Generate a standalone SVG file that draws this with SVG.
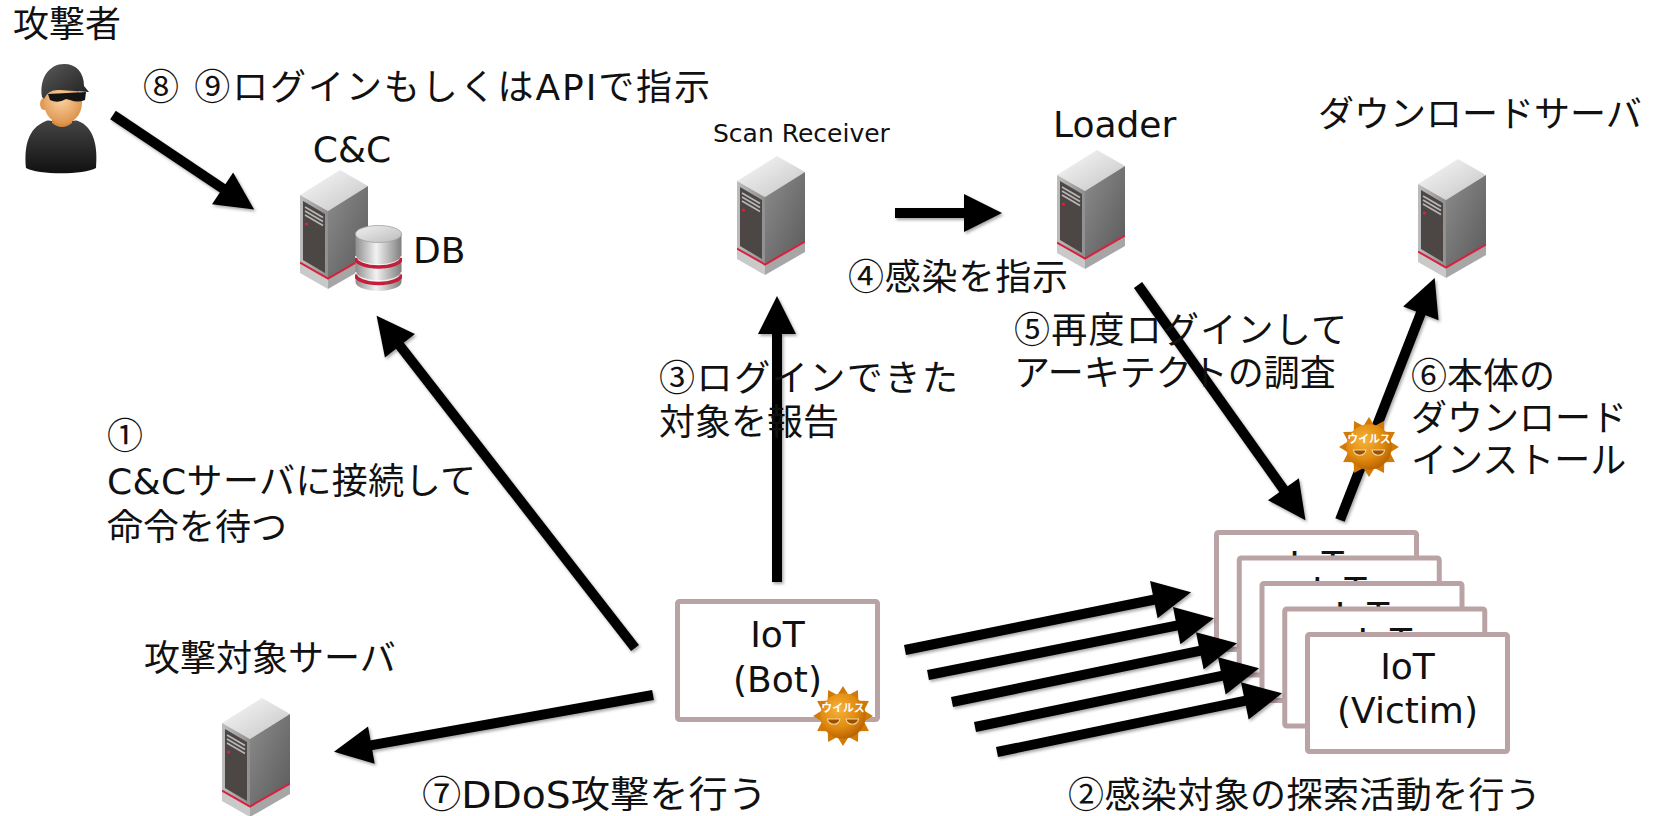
<svg xmlns="http://www.w3.org/2000/svg" xmlns:xlink="http://www.w3.org/1999/xlink" width="1674" height="816" viewBox="0 0 1674 816">
  <style>
    .t { font-family: "DejaVu Sans", "Noto Sans CJK JP", sans-serif; font-size: 36px; fill: #111; }
    .c { font-family: "Noto Sans CJK JP", sans-serif; }
    .small { font-size: 25px; }
    .mid { text-anchor: middle; }
    .box { fill: #fff; stroke: #b9a3a5; stroke-width: 5; }
    .arrow { stroke: #000; stroke-width: 10; fill: none; marker-end: url(#head); }
    .vtxt { font-family: "Noto Sans CJK JP", sans-serif; font-weight: bold; font-size: 10.5px; fill: #fff; text-anchor: middle; }
  </style>
  <defs>
    <marker id="head" markerUnits="userSpaceOnUse" markerWidth="40" markerHeight="40" viewBox="0 -20 40 40" refX="1" refY="0" orient="auto" overflow="visible">
      <path d="M0,-19 L38,0 L0,19 Z" fill="#000"/>
    </marker>
    <filter id="shadow" x="-5%" y="-5%" width="110%" height="110%">
      <feDropShadow dx="1.5" dy="2" stdDeviation="1.5" flood-color="#000" flood-opacity="0.35"/>
    </filter>
    <linearGradient id="gTop" x1="0" y1="0" x2="1" y2="1">
      <stop offset="0" stop-color="#fafafa"/>
      <stop offset="1" stop-color="#c4c4c4"/>
    </linearGradient>
    <linearGradient id="gRight" x1="0" y1="0" x2="1" y2="1">
      <stop offset="0" stop-color="#8c8c8c"/>
      <stop offset="1" stop-color="#5a5a5a"/>
    </linearGradient>
    <linearGradient id="gBezel" x1="0" y1="0" x2="1" y2="0">
      <stop offset="0" stop-color="#bdbdbd"/>
      <stop offset="1" stop-color="#8f8f8f"/>
    </linearGradient>
    <linearGradient id="gCyl" x1="0" y1="0" x2="1" y2="0">
      <stop offset="0" stop-color="#8e8e8e"/>
      <stop offset="0.45" stop-color="#f2f2f2"/>
      <stop offset="1" stop-color="#7e7e7e"/>
    </linearGradient>
    <linearGradient id="gCylTop" x1="0" y1="0" x2="1" y2="1">
      <stop offset="0" stop-color="#f0f0f0"/>
      <stop offset="1" stop-color="#bcbcbc"/>
    </linearGradient>
    <radialGradient id="gVirus" cx="0.4" cy="0.35" r="0.7">
      <stop offset="0" stop-color="#f7b23a"/>
      <stop offset="0.6" stop-color="#e08a10"/>
      <stop offset="1" stop-color="#b45e00"/>
    </radialGradient>
    <radialGradient id="gSkin" cx="0.45" cy="0.4" r="0.7">
      <stop offset="0" stop-color="#fbd3a0"/>
      <stop offset="1" stop-color="#d98a42"/>
    </radialGradient>
    <linearGradient id="gShirt" x1="0" y1="0" x2="0" y2="1">
      <stop offset="0" stop-color="#444"/>
      <stop offset="1" stop-color="#111"/>
    </linearGradient>
    <linearGradient id="gCap" x1="0" y1="0" x2="1" y2="1">
      <stop offset="0" stop-color="#5a5a5a"/>
      <stop offset="1" stop-color="#1e1e1e"/>
    </linearGradient>

    <!-- tower server, 68 x 120 -->
    <symbol id="server" viewBox="0 0 68 120">
      <polygon points="0,26 40,1 68,17 28,42" fill="url(#gTop)"/>
      <polygon points="0,26 28,42 28,110 0,94" fill="url(#gBezel)"/>
      <polygon points="3,32 25,45 25,104 3,91" fill="#4c4745"/>
      <g stroke="#b8b8b8" stroke-width="1.6">
        <line x1="5" y1="38" x2="23" y2="48.5"/>
        <line x1="5" y1="42" x2="23" y2="52.5"/>
        <line x1="5" y1="46" x2="23" y2="56.5"/>
      </g>
      <circle cx="6.5" cy="55" r="1.6" fill="#e0203c"/>
      <polygon points="28,42 68,17 68,87 28,110" fill="url(#gRight)"/>
      <polygon points="0,94 28,110 28,120 0,104" fill="#c9c9c9"/>
      <polygon points="28,110 68,87 68,97 28,120" fill="#a6a6a6"/>
      <polyline points="0,93.5 28,109.5 68,86.5" fill="none" stroke="#d8203c" stroke-width="2"/>
    </symbol>

    <!-- database cylinder, 47 x 67 -->
    <symbol id="db" viewBox="0 0 47 67">
      <path d="M0.5,9 L0.5,57 A23,9 0 0 0 46.5,57 L46.5,9 Z" fill="url(#gCyl)"/>
      <path d="M0.5,31 A23,9 0 0 0 46.5,31" fill="none" stroke="#fff" stroke-width="2" opacity="0.7"/>
      <path d="M0.5,33 A23,9 0 0 0 46.5,33" fill="none" stroke="#c41e3a" stroke-width="3.5"/>
      <path d="M0.5,47 A23,9 0 0 0 46.5,47" fill="none" stroke="#fff" stroke-width="2" opacity="0.7"/>
      <path d="M0.5,49.5 A23,9 0 0 0 46.5,49.5" fill="none" stroke="#c41e3a" stroke-width="3.5"/>
      <ellipse cx="23.5" cy="9" rx="23" ry="8.5" fill="url(#gCylTop)" stroke="#a0a0a0" stroke-width="0.8"/>
    </symbol>

    <!-- virus badge, centred at 0,0 -->
    <symbol id="virus" viewBox="-31 -31 62 62" overflow="visible">
      <polygon points="0,-29 5.4,-20.3 14.5,-25.1 14.8,-14.8 25.1,-14.5 20.3,-5.4 29,0 20.3,5.4 25.1,14.5 14.8,14.8 14.5,25.1 5.4,20.3 0,29 -5.4,20.3 -14.5,25.1 -14.8,14.8 -25.1,14.5 -20.3,5.4 -29,0 -20.3,-5.4 -25.1,-14.5 -14.8,-14.8 -14.5,-25.1 -5.4,-20.3" fill="#d27a08"/>
      <circle r="22" fill="url(#gVirus)"/>
      <text class="vtxt" x="0" y="-4">ウイルス</text>
      <path d="M-15,3 A6,5 0 0 0 -3,3 Z" fill="#9a5200" stroke="#f6d8a0" stroke-width="1"/>
      <path d="M3,3 A6,5 0 0 0 15,3 Z" fill="#9a5200" stroke="#f6d8a0" stroke-width="1"/>
    </symbol>
  </defs>

  <rect width="1674" height="816" fill="#fff"/>

  <!-- attacker -->
  <g id="attacker">
    <text class="t" x="13" y="37">攻撃者</text>
    <path d="M26,168 C24,146 28,128 46,121 C52,119 56,124 62,126 C68,124 72,119 78,121 C94,127 98,146 96,168 C84,175 38,175 26,168 Z" fill="url(#gShirt)"/>
    <path d="M52,110 L52,123 Q62,131 72,123 L72,110 Z" fill="#d98a42"/>
    <ellipse cx="44" cy="104" rx="4" ry="6" fill="#e29a55"/>
    <ellipse cx="63" cy="103" rx="19" ry="21" fill="url(#gSkin)"/>
    <path d="M42,97 C39,77 50,64 64,64 C76,64 84,72 84,86 L89,92 L60,90 Q48,89 44,99 Z" fill="url(#gCap)"/>
    <path d="M48,94 L86,92 L85,100 Q78,103 70,100 L66,99 Q58,104 50,100 Z" fill="#141414"/>
    <text class="t" x="143" y="100" textLength="567"><tspan class="c">⑧</tspan> <tspan class="c">⑨</tspan>ログインもしくはAPIで指示</text>
  </g>

  <!-- C&C server with DB -->
  <g id="cnc">
    <text class="t mid" x="352" y="162">C&amp;C</text>
    <use href="#server" x="300" y="169" width="68" height="120"/>
    <use href="#db" x="355" y="225" width="47" height="67"/>
    <text class="t" x="413" y="263">DB</text>
  </g>

  <!-- scan receiver -->
  <g id="scan-receiver">
    <text class="t small" x="713" y="142">Scan Receiver</text>
    <use href="#server" x="737" y="155" width="68" height="120"/>
  </g>

  <!-- loader -->
  <g id="loader">
    <text class="t" x="1053" y="137">Loader</text>
    <use href="#server" x="1057" y="149" width="68" height="120"/>
  </g>

  <!-- download server -->
  <g id="download-server">
    <text class="t" x="1318" y="127">ダウンロードサーバ</text>
    <use href="#server" x="1418" y="158" width="68" height="120"/>
  </g>

  <!-- attack target -->
  <g id="target-server">
    <text class="t" x="144" y="671">攻撃対象サーバ</text>
    <use href="#server" x="222" y="697" width="68" height="120"/>
  </g>

  <!-- infected device -->
  <g id="iot-bot">
    <rect class="box" x="677.5" y="601.5" width="200" height="118" rx="2"/>
    <text class="t mid" x="777.5" y="647">IoT</text>
    <text class="t mid" x="777.5" y="692">(Bot)</text>
    <use href="#virus" x="811" y="684" width="64" height="64"/>
  </g>

  <!-- victim devices, stacked; only the front card's label is fully visible -->
  <g id="iot-victims">
    <rect class="box" x="1216.5" y="532.5" width="200" height="117" rx="2"/>
    <text class="t mid" x="1316.5" y="577">IoT</text>
    <rect class="box" x="1239.25" y="558" width="200" height="117" rx="2"/>
    <text class="t mid" x="1339.25" y="602.5">IoT</text>
    <rect class="box" x="1262" y="583.5" width="200" height="117" rx="2"/>
    <text class="t mid" x="1362" y="628">IoT</text>
    <rect class="box" x="1284.75" y="609" width="200" height="117" rx="2"/>
    <text class="t mid" x="1384.75" y="653.5">IoT</text>
    <rect class="box" x="1307.5" y="634.5" width="200" height="117" rx="2"/>
    <text class="t mid" x="1407.5" y="679">IoT</text>
    <text class="t mid" x="1407.5" y="723">(Victim)</text>
  </g>

  <!-- connectors -->
  <g id="connectors" filter="url(#shadow)">
    <line class="arrow" x1="113" y1="115" x2="223.4" y2="188.9"/>
    <line class="arrow" x1="635" y1="648" x2="399.3" y2="345"/>
    <line class="arrow" x1="777" y1="582" x2="777" y2="333"/>
    <line class="arrow" x1="895" y1="213" x2="965" y2="213"/>
    <line class="arrow" x1="1138" y1="285" x2="1284" y2="490"/>
    <line class="arrow" x1="1340" y1="520" x2="1421.2" y2="312.4"/>
    <line class="arrow" x1="653" y1="695" x2="370.4" y2="745.3"/>
    <line class="arrow" x1="905" y1="650" x2="1154.8" y2="599.5"/>
    <line class="arrow" x1="928" y1="675" x2="1177.7" y2="625.4"/>
    <line class="arrow" x1="952" y1="702" x2="1200.8" y2="650.7"/>
    <line class="arrow" x1="975" y1="727" x2="1222.8" y2="675.7"/>
    <line class="arrow" x1="997" y1="752" x2="1245.8" y2="700.7"/>
  </g>

  <!-- payload being downloaded -->
  <use id="virus-download" href="#virus" x="1337" y="415" width="64" height="64"/>

  <!-- step labels -->
  <g id="labels">
    <text class="t" x="848" y="290" textLength="220"><tspan class="c">④</tspan>感染を指示</text>
    <text class="t" x="1014" y="343" textLength="333"><tspan class="c">⑤</tspan>再度ログインして</text>
    <text class="t" x="1014" y="386">アーキテクトの調査</text>
    <text class="t" x="1411" y="389"><tspan class="c">⑥</tspan>本体の</text>
    <text class="t" x="1411" y="431">ダウンロード</text>
    <text class="t" x="1411" y="473">インストール</text>
    <text class="t" x="659" y="391" textLength="299"><tspan class="c">③</tspan>ログインできた</text>
    <text class="t" x="659" y="435">対象を報告</text>
    <text class="t c" x="107" y="449">①</text>
    <text class="t" x="107" y="494" textLength="369">C&amp;Cサーバに接続して</text>
    <text class="t" x="107" y="540">命令を待つ</text>
    <text class="t" x="422" y="808" style="font-size:37px" textLength="345" lengthAdjust="spacingAndGlyphs"><tspan class="c">⑦</tspan>DDoS攻撃を行う</text>
    <text class="t" x="1068" y="808" textLength="473"><tspan class="c">②</tspan>感染対象の探索活動を行う</text>
  </g>
</svg>
